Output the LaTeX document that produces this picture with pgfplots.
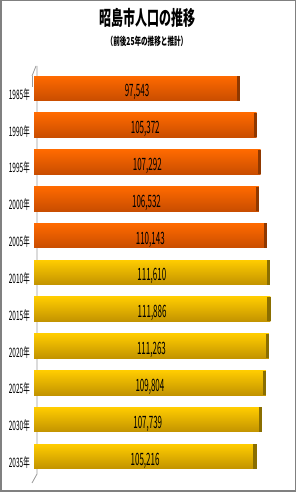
\documentclass[border=0pt]{standalone}
\usepackage{pgfplots}
\pgfplotsset{compat=1.18}
\usepackage{pgfplotstable}
\usepackage{fontspec}
\setmainfont{Noto Sans CJK JP}
\newfontfamily\titlefont[FakeStretch=0.6]{Noto Sans CJK JP}
\newfontfamily\tickfont[FakeStretch=0.5]{Noto Sans CJK JP}
\newfontfamily\valfont[FakeStretch=0.47]{Noto Sans CJK JP}
\definecolor{orT}{HTML}{FF6A00}
\definecolor{orB}{HTML}{C94D00}
\definecolor{orC}{HTML}{8F3800}
\definecolor{yeT}{HTML}{FFCC00}
\definecolor{yeB}{HTML}{C29300}
\definecolor{yeC}{HTML}{8A6E00}
\pgfdeclareplotmark{cap}{\pgfpathrectangle{\pgfqpoint{-3pt}{-12.25pt}}{\pgfqpoint{3.5pt}{24.5pt}}\pgfusepathqfill}
\pgfplotstableread{
y v lab
0 97543 97,543
1 105372 105,372
2 107292 107,292
3 106532 106,532
4 110143 110,143
}\orangedata
\pgfplotstableread{
y v lab
5 111610 111,610
6 111886 111,886
7 111263 111,263
8 109804 109,804
9 107739 107,739
10 105216 105,216
}\yellowdata
\begin{document}
\begin{tikzpicture}
\useasboundingbox (0pt,0pt) rectangle (296pt,492pt);
\fill[white] (0pt,0pt) rectangle (296pt,492pt);
% wall lines (behind bars)
\draw[gray!80, line width=0.8pt] (37pt,426pt) -- (37pt,18pt) -- (32pt,9pt);
\draw[gray!80, line width=0.8pt] (32pt,416pt) -- (36pt,426pt);
\draw[gray!80, line width=0.8pt] (32pt,416pt) -- (32pt,405pt);
\node[font=\titlefont\bfseries\fontsize{20}{20}\selectfont] at (147pt,474pt) {昭島市人口の推移};
\node[font=\titlefont\bfseries\fontsize{11}{11}\selectfont] at (147pt,451pt) {（前後25年の推移と推計）};
\begin{axis}[
  at={(34pt,13.4pt)}, anchor=south west,
  scale only axis, width=253.4pt, height=412.4pt,
  xmin=0, xmax=120000,
  ymin=-0.6, ymax=10.6, y dir=reverse,
  axis line style={draw=none},
  xtick=\empty,
  ytick={0,1,2,3,4,5,6,7,8,9,10},
  yticklabels={1985年,1990年,1995年,2000年,2005年,2010年,2015年,2020年,2025年,2030年,2035年},
  major tick length=0pt,
  yticklabel style={anchor=east, inner sep=0pt, xshift=-4pt, yshift=-6pt, font=\tickfont\fontsize{13}{13}\selectfont, text=black},
  clip=false,
]
\pgfplotsinvokeforeach{0,1,2,3,4}{
\addplot[xbar, bar width=24.5pt, bar shift=0pt, draw=none, top color=orT, bottom color=orB,
  restrict y to domain=#1:#1] table[x=v,y=y] {\orangedata};
}
\addplot[only marks, mark=cap, mark options={fill=orC, draw=none}] table[x=v,y=y] {\orangedata};
\pgfplotsinvokeforeach{5,6,7,8,9,10}{
\addplot[xbar, bar width=24.5pt, bar shift=0pt, draw=none, top color=yeT, bottom color=yeB,
  restrict y to domain=#1:#1] table[x=v,y=y] {\yellowdata};
}
\addplot[only marks, mark=cap, mark options={fill=yeC, draw=none}] table[x=v,y=y] {\yellowdata};
\addplot[only marks, mark=none, point meta=explicit symbolic,
  nodes near coords,
  every node near coord/.append style={anchor=center, yshift=-4pt, font=\valfont\fontsize{17}{17}\selectfont, text=black}]
  table[x expr=\thisrow{v}/2, y=y, meta=lab] {\orangedata};
\addplot[only marks, mark=none, point meta=explicit symbolic,
  nodes near coords,
  every node near coord/.append style={anchor=center, yshift=-4pt, font=\valfont\fontsize{17}{17}\selectfont, text=black}]
  table[x expr=\thisrow{v}/2, y=y, meta=lab] {\yellowdata};
\end{axis}
\draw[gray, line width=1.5pt] (0.75pt,0.75pt) rectangle (295.25pt,491.25pt);
\end{tikzpicture}
\end{document}
